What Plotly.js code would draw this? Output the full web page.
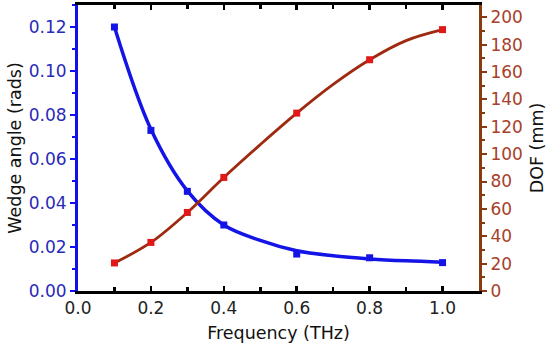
<!DOCTYPE html>
<html><head><meta charset="utf-8">
<script src="https://cdn.plot.ly/plotly-3.0.1.min.js"></script>
<style>body{margin:0;background:#fff}#c{width:550px;height:355px}</style>
</head><body><div id="c"></div>
<script>
// measured points
const freq = [0.1, 0.2, 0.3, 0.4, 0.6, 0.8, 1.0];
const wedgeAngle = [0.120, 0.073, 0.0453, 0.030, 0.0168, 0.0151, 0.0129];
const dof = [20.5, 35.5, 57.4, 83, 130, 169, 191];
// smooth fitted curves
const fitFreq = [0.1, 0.2, 0.3, 0.4, 0.5, 0.6, 0.7, 0.8, 0.9, 1.0];
const wedgeFit = [0.120, 0.0735, 0.0455, 0.0300, 0.0230, 0.0183, 0.0160, 0.0146, 0.0137, 0.0131];
const dofFit = [20.5, 35.5, 57.4, 83, 107, 130, 151, 169, 183, 191];
const xTicks = [0.0, 0.2, 0.4, 0.6, 0.8, 1.0];
const xTickText = ['0.0', '0.2', '0.4', '0.6', '0.8', '1.0'];

const font = 'DejaVu Sans, Arial, sans-serif';
const traces = [
  {x: fitFreq, y: wedgeFit, type: 'scatter', mode: 'lines',
   line: {color: '#1414e6', width: 3.5, shape: 'spline', smoothing: 1},
   yaxis: 'y', showlegend: false},
  {x: freq, y: wedgeAngle, type: 'scatter', mode: 'markers',
   marker: {symbol: 'square', size: 7, color: '#1414e6'}, yaxis: 'y', showlegend: false},
  {x: fitFreq, y: dofFit, type: 'scatter', mode: 'lines',
   line: {color: '#9e2a10', width: 2.8, shape: 'spline', smoothing: 1},
   yaxis: 'y2', showlegend: false},
  {x: freq, y: dof, type: 'scatter', mode: 'markers',
   marker: {symbol: 'square', size: 7, color: '#e01818'}, yaxis: 'y2', showlegend: false}
];
const layout = {
  width: 550, height: 355,
  margin: {l: 78, r: 71, t: 5, b: 64},
  paper_bgcolor: '#fff', plot_bgcolor: '#fff',
  font: {family: font, size: 17, color: '#000'},
  xaxis: {range: [0, 1.1], tickvals: xTicks, ticktext: xTickText,
    showgrid: false, zeroline: false, showline: true, linecolor: '#000', linewidth: 3,
    mirror: 'ticks', ticks: 'inside', ticklen: 5, tickwidth: 2.5, tickcolor: '#000',
    minor: {dtick: 0.1, ticks: 'inside', ticklen: 4, tickwidth: 2.5, tickcolor: '#000'},
    tickfont: {size: 17, color: '#222'},
    title: {text: 'Frequency (THz)', font: {size: 17.5, color: '#111'}, standoff: 10}},
  yaxis: {range: [0, 0.13], tickvals: [0, 0.02, 0.04, 0.06, 0.08, 0.10, 0.12],
    ticktext: ['0.00','0.02','0.04','0.06','0.08','0.10','0.12'],
    showgrid: false, zeroline: false, showline: true, linecolor: '#1010ee', linewidth: 3,
    ticks: 'outside', ticklen: 5, tickwidth: 2, tickcolor: '#1010ee',
    minor: {dtick: 0.01, ticks: 'outside', ticklen: 3, tickwidth: 2, tickcolor: '#1010ee'},
    tickfont: {size: 17, color: '#2a2ab8'},
    title: {text: 'Wedge angle (rads)', font: {size: 17.5, color: '#111'}, standoff: 3}},
  yaxis2: {overlaying: 'y', side: 'right', range: [0, 209], dtick: 20, tick0: 0,
    showgrid: false, zeroline: false, showline: true, linecolor: '#8b3a10', linewidth: 3,
    ticks: 'outside', ticklen: 5, tickwidth: 2, tickcolor: '#8b3a10',
    minor: {dtick: 10, ticks: 'outside', ticklen: 3, tickwidth: 2, tickcolor: '#8b3a10'},
    tickfont: {size: 17, color: '#a8402a'},
    title: {text: 'DOF (mm)', font: {size: 17.5, color: '#111'}, standoff: 9}}
};
Plotly.newPlot('c', traces, layout, {displayModeBar: false, staticPlot: true});
</script></body></html>
